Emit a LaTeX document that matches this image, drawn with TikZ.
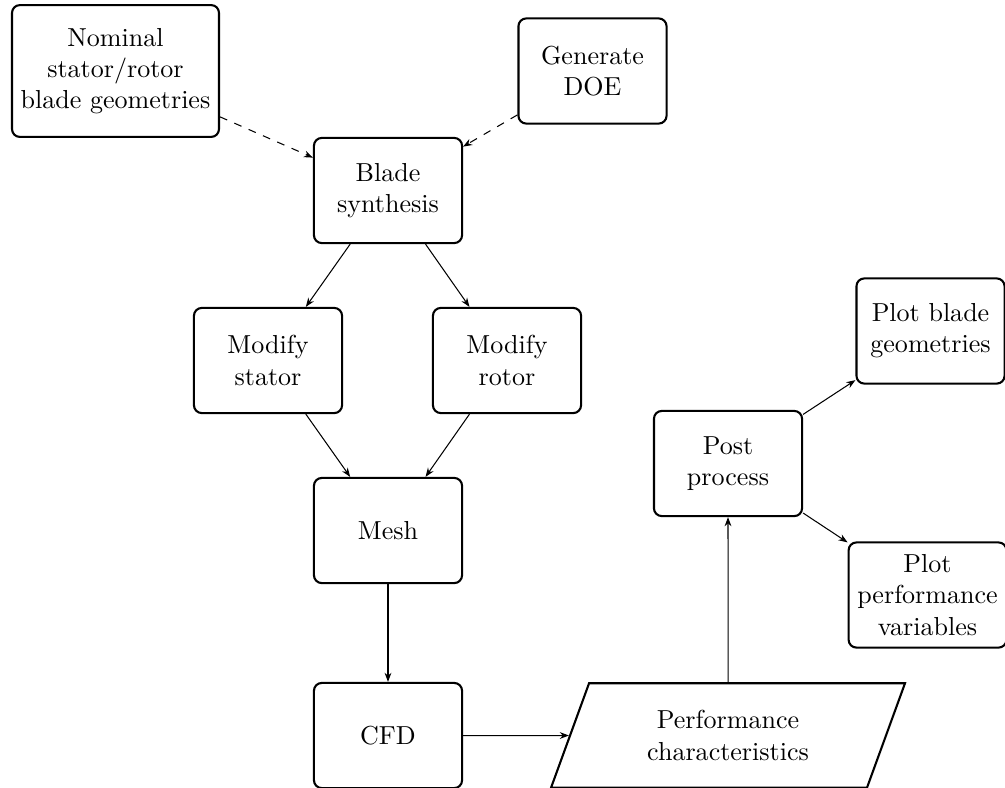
\documentclass[tikz,border=0pt]{standalone}
\usetikzlibrary{shapes.geometric,arrows.meta}
\begin{document}
\begin{tikzpicture}[x=0.0135cm,y=-0.0135cm,
  box/.style={draw, thick, rounded corners=3pt, align=center, minimum width=2cm, minimum height=1.42cm},
  iobox/.style={draw, thick, trapezium, trapezium left angle=70, trapezium right angle=110,
     trapezium stretches body, align=center, inner ysep=10.5pt, minimum width=4.78cm},
  arr/.style={-{Stealth[length=3.5pt,width=2.6pt]}, line width=0.4pt},
  darr/.style={arr, dashed}]
\useasboundingbox (0,0) rectangle (1005,787);
\node[box, minimum height=1.78cm] (nom) at (115.5,71) {Nominal\\stator/rotor\\blade geometries};
\node[box] (doe) at (592.5,71) {Generate\\DOE};
\node[box] (bs) at (388,190.5) {Blade\\synthesis};
\node[box] (ms) at (268,360.5) {Modify\\stator};
\node[box] (mr) at (507,360.5) {Modify\\rotor};
\node[box] (mesh) at (388,530.5) {Mesh};
\node[box] (cfd) at (388,735.5) {CFD};
\node[iobox] (perf) at (728,735.5) {Performance\\characteristics};
\node[box] (post) at (728,463.5) {Post\\process};
\node[box] (pbg) at (930.5,331) {Plot blade\\geometries};
\node[box] (ppv) at (927.5,595) {Plot\\performance\\variables};
\draw[darr] (nom) -- (bs);
\draw[darr] (doe) -- (bs);
\draw[arr] (bs) -- (ms);
\draw[arr] (bs) -- (mr);
\draw[arr] (ms) -- (mesh);
\draw[arr] (mr) -- (mesh);
\draw[arr] (mesh) -- (cfd);
\draw[arr] (cfd) -- (perf);
\draw[arr] (perf) -- (post);
\draw[arr] (post) -- (pbg);
\draw[arr] (post) -- (ppv);
\end{tikzpicture}
\end{document}
